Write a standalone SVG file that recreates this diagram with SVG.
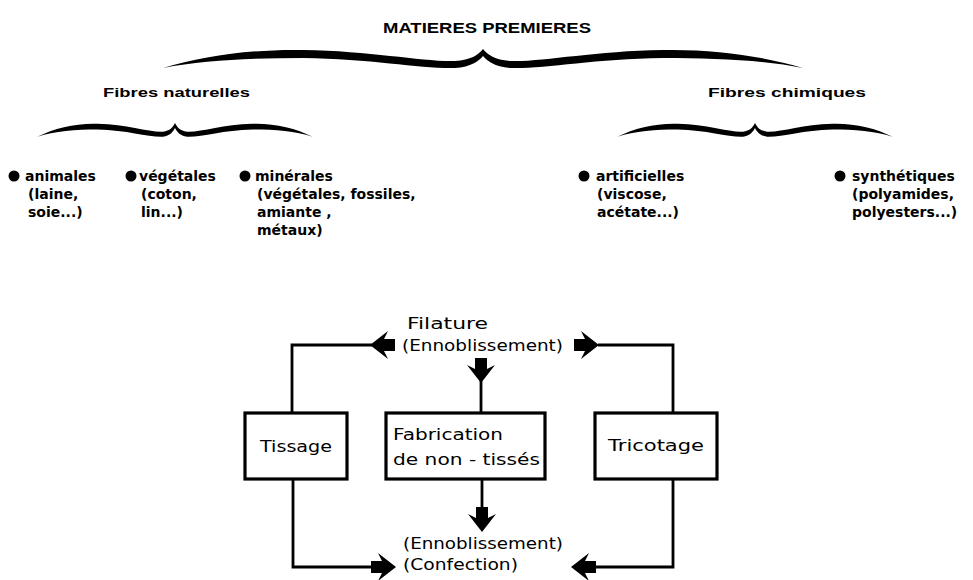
<svg xmlns="http://www.w3.org/2000/svg" width="973" height="580" viewBox="0 0 973 580">
<style>
.h{font-family:"Liberation Sans",Arial,sans-serif;font-weight:bold;fill:#000}
.b{font-family:"DejaVu Sans",sans-serif;font-weight:bold;font-size:14px;fill:#000}
.f{font-family:"DejaVu Sans",sans-serif;font-size:16px;fill:#000}
.ln{fill:none;stroke:#000;stroke-width:2.8}
.box{fill:#fff;stroke:#000;stroke-width:3.2}
</style>
<defs>
<path id="brace" d="M-320,19 C-280,7 -230,0 -180,1 C-110,2 -60,13 -28,12 C-12,11 -5,6 0,0 C5,6 12,11 28,12 C60,13 110,2 180,1 C230,0 280,7 320,19 C280,11 230,9 180,9 C110,10 60,20 28,19 C12,18 4,12 0,7 C-4,12 -12,18 -28,19 C-60,20 -110,10 -180,9 C-230,9 -280,11 -320,19 Z" fill="#000"/>
<polygon id="arr" points="0,0 -18,-14 -14,-6 -25,-6 -25,6 -14,6 -18,14" fill="#000"/>
<circle id="dot" r="5.5" fill="#000"/>
</defs>

<g id="title"><text class="h" x="487" y="33" font-size="15" text-anchor="middle" textLength="208" lengthAdjust="spacingAndGlyphs">MATIERES PREMIERES</text></g>
<g id="brace-main"><use href="#brace" transform="translate(483,49) scale(1,1)"/></g>

<g id="fibres-naturelles"><text class="h" x="103" y="97" font-size="13.5" textLength="147" lengthAdjust="spacingAndGlyphs">Fibres naturelles</text></g>
<g id="fibres-chimiques"><text class="h" x="708" y="97" font-size="13.5" textLength="158" lengthAdjust="spacingAndGlyphs">Fibres chimiques</text></g>
<g id="brace-nat"><use href="#brace" transform="translate(175,123) scale(0.43,0.72)"/></g>
<g id="brace-chim"><use href="#brace" transform="translate(755,123) scale(0.43,0.72)"/></g>

<g id="animales"><use href="#dot" x="14" y="176"/>
<text class="b" x="25" y="181">animales</text>
<text class="b" x="28" y="199">(laine,</text>
<text class="b" x="28" y="217">soie...)</text></g>
<g id="vegetales"><use href="#dot" x="131" y="176"/>
<text class="b" x="139" y="181">végétales</text>
<text class="b" x="141" y="199">(coton,</text>
<text class="b" x="141" y="217">lin...)</text></g>
<g id="minerales"><use href="#dot" x="245" y="176"/>
<text class="b" x="255" y="181">minérales</text>
<text class="b" x="257" y="199">(végétales, fossiles,</text>
<text class="b" x="257" y="217">amiante ,</text>
<text class="b" x="257" y="235">métaux)</text></g>
<g id="artificielles"><use href="#dot" x="584" y="176"/>
<text class="b" x="596" y="181">artificielles</text>
<text class="b" x="597" y="199">(viscose,</text>
<text class="b" x="597" y="217">acétate...)</text></g>
<g id="synthetiques"><use href="#dot" x="840" y="176"/>
<text class="b" x="852" y="181">synthétiques</text>
<text class="b" x="852" y="199">(polyamides,</text>
<text class="b" x="852" y="217">polyesters...)</text></g>

<g id="filature"><text class="f" x="407" y="329" font-size="18" textLength="81" lengthAdjust="spacingAndGlyphs">Filature</text>
<text class="f" x="402" y="351" font-size="15.5" textLength="161" lengthAdjust="spacingAndGlyphs">(Ennoblissement)</text></g>

<g id="connectors">
<polyline class="ln" points="372,345 292,345 292,413"/>
<use href="#arr" transform="translate(370,345) rotate(180)"/>
<polyline class="ln" points="598,345 673,345 673,413"/>
<use href="#arr" transform="translate(599,345)"/>
<line class="ln" x1="481" y1="378" x2="481" y2="413"/>
<use href="#arr" transform="translate(481,383) rotate(90)"/>
<polyline class="ln" points="293,479 293,567 375,567"/>
<use href="#arr" transform="translate(396,567)"/>
<line class="ln" x1="482" y1="479" x2="482" y2="510"/>
<use href="#arr" transform="translate(482,532) rotate(90)"/>
<polyline class="ln" points="673,479 673,567 595,567"/>
<use href="#arr" transform="translate(571,567) rotate(180)"/>
</g>

<g id="tissage"><rect class="box" x="245" y="413" width="102" height="66"/>
<text class="f" x="296" y="452" font-size="17" text-anchor="middle" textLength="72" lengthAdjust="spacingAndGlyphs">Tissage</text></g>
<g id="fabrication"><rect class="box" x="386" y="413" width="159" height="66"/>
<text class="f" x="393" y="440" font-size="17" textLength="110" lengthAdjust="spacingAndGlyphs">Fabrication</text>
<text class="f" x="393" y="465" font-size="17" textLength="147" lengthAdjust="spacingAndGlyphs">de non - tissés</text></g>
<g id="tricotage"><rect class="box" x="595" y="413" width="122" height="66"/>
<text class="f" x="656" y="451" font-size="17" text-anchor="middle" textLength="96" lengthAdjust="spacingAndGlyphs">Tricotage</text></g>

<g id="sortie"><text class="f" x="403" y="549" font-size="15.5" textLength="160" lengthAdjust="spacingAndGlyphs">(Ennoblissement)</text>
<text class="f" x="403" y="570" font-size="15.5" textLength="115" lengthAdjust="spacingAndGlyphs">(Confection)</text></g>
</svg>
